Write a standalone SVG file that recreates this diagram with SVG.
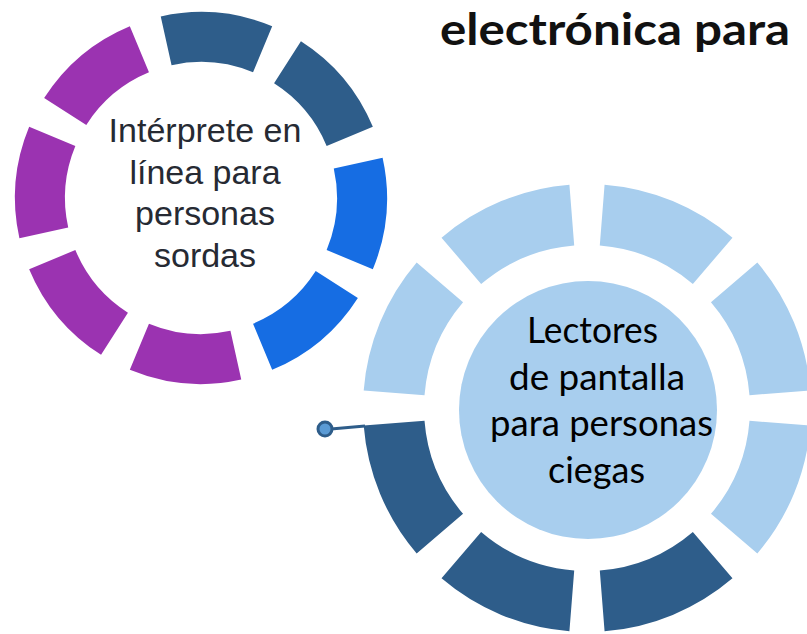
<svg xmlns="http://www.w3.org/2000/svg" width="807" height="634" viewBox="0 0 807 634">
<style>
.dark{fill:#2e5d8a}
.blue{fill:#166de3}
.purple{fill:#9b33b1}
.light{fill:#a8ceee}
.t1{font-family:"Liberation Sans",Arial,sans-serif;font-size:34px;fill:#262a33;text-anchor:middle}
.t2{font-family:Lato,"Open Sans",sans-serif;font-size:37px;fill:#000}
.title{font-family:Lato,"Open Sans",sans-serif;font-weight:bold;font-size:44px;fill:#111}
</style>
<rect width="807" height="634" fill="#fff"/>
<text class="title" x="440" y="45" textLength="350" lengthAdjust="spacingAndGlyphs">electrónica para</text>
<g id="ring-sordas">
<path class="dark" d="M160.74,16.41 A186,186 0 0 1 272.18,26.16 L253.04,72.35 A136,136 0 0 0 171.56,65.22 Z"/>
<path class="dark" d="M300.94,41.13 A186,186 0 0 1 372.84,126.82 L326.65,145.96 A136,136 0 0 0 274.07,83.30 Z"/>
<path class="blue" d="M382.59,157.74 A186,186 0 0 1 372.84,269.18 L326.65,250.04 A136,136 0 0 0 333.78,168.56 Z"/>
<path class="blue" d="M357.87,297.94 A186,186 0 0 1 272.18,369.84 L253.04,323.65 A136,136 0 0 0 315.70,271.07 Z"/>
<path class="purple" d="M241.26,379.59 A186,186 0 0 1 129.82,369.84 L148.96,323.65 A136,136 0 0 0 230.44,330.78 Z"/>
<path class="purple" d="M101.06,354.87 A186,186 0 0 1 29.16,269.18 L75.35,250.04 A136,136 0 0 0 127.93,312.70 Z"/>
<path class="purple" d="M19.41,238.26 A186,186 0 0 1 29.16,126.82 L75.35,145.96 A136,136 0 0 0 68.22,227.44 Z"/>
<path class="purple" d="M44.13,98.06 A186,186 0 0 1 129.82,26.16 L148.96,72.35 A136,136 0 0 0 86.30,124.93 Z"/>
<text class="t1" x="205" y="142">Intérprete en</text>
<text class="t1" x="205" y="184">línea para</text>
<text class="t1" x="205" y="225">personas</text>
<text class="t1" x="205" y="267">sordas</text>
</g>
<g id="ring-ciegas">
<path class="light" d="M604.58,184.69 A224,224 0 0 1 732.48,237.67 L692.86,284.05 A163,163 0 0 0 599.79,245.50 Z"/>
<path class="light" d="M757.33,262.52 A224,224 0 0 1 810.31,390.42 L749.50,395.21 A163,163 0 0 0 710.95,302.14 Z"/>
<path class="light" d="M810.31,425.58 A224,224 0 0 1 757.33,553.48 L710.95,513.86 A163,163 0 0 0 749.50,420.79 Z"/>
<path class="dark" d="M732.48,578.33 A224,224 0 0 1 604.58,631.31 L599.79,570.50 A163,163 0 0 0 692.86,531.95 Z"/>
<path class="dark" d="M569.42,631.31 A224,224 0 0 1 441.52,578.33 L481.14,531.95 A163,163 0 0 0 574.21,570.50 Z"/>
<path class="dark" d="M416.67,553.48 A224,224 0 0 1 363.69,425.58 L424.50,420.79 A163,163 0 0 0 463.05,513.86 Z"/>
<path class="light" d="M363.69,390.42 A224,224 0 0 1 416.67,262.52 L463.05,302.14 A163,163 0 0 0 424.50,395.21 Z"/>
<path class="light" d="M441.52,237.67 A224,224 0 0 1 569.42,184.69 L574.21,245.50 A163,163 0 0 0 481.14,284.05 Z"/>
<circle class="light" cx="588" cy="410" r="129"/>
<text class="t2" x="527" y="343" textLength="131" lengthAdjust="spacingAndGlyphs">Lectores</text>
<text class="t2" x="509" y="390" textLength="176" lengthAdjust="spacingAndGlyphs">de pantalla</text>
<text class="t2" x="490" y="436" textLength="223" lengthAdjust="spacingAndGlyphs">para personas</text>
<text class="t2" x="548" y="483" textLength="97" lengthAdjust="spacingAndGlyphs">ciegas</text>
</g>
<g id="connectors">
<line x1="331" y1="429" x2="365" y2="426" stroke="#2e5d8a" stroke-width="3"/>
<circle cx="325" cy="429" r="7" fill="#5b9bd5" stroke="#2e5d8a" stroke-width="3"/>
</g>
</svg>
